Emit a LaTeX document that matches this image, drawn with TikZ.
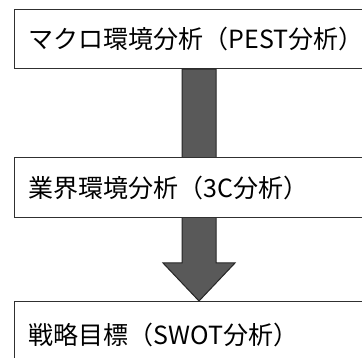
\documentclass[tikz,border=0pt]{standalone}
\usepackage{fontspec}
\newfontfamily\jp{Noto Sans CJK JP}
\usetikzlibrary{calc}
\definecolor{arrowfill}{HTML}{595959}
\definecolor{edge}{HTML}{303030}
\tikzset{
  stage/.style={draw=edge, line width=1.1pt, fill=white, anchor=north west,
    minimum width=400pt, text width=372pt, inner xsep=14pt, align=left,
    font=\jp\fontsize{25}{29}\selectfont},
  bigarrow/.style={draw=black!85, line width=1pt, fill=arrowfill}
}
\begin{document}
\begin{tikzpicture}[x=1pt,y=1pt]
\useasboundingbox (0,0) rectangle (362,358);
\clip (0,0) rectangle (362,358);
\fill[white] (0,0) rectangle (362,358);
\node[stage, minimum height=59pt] (macro) at (14,349) {マクロ環境分析（PEST分析）};
\node[stage, minimum height=66pt] (goal) at (14,57) {戦略目標（SWOT分析）};
\coordinate (as) at (199,0 |- macro.south);
\coordinate (ae) at (199,0 |- goal.north);
\draw[bigarrow] ($(as)+(-17,0)$) -- ($(ae)+(-17,38)$) -- ($(ae)+(-36,38)$) -- (ae)
  -- ($(ae)+(36,38)$) -- ($(ae)+(17,38)$) -- ($(as)+(17,0)$) -- cycle;
\node[stage, minimum height=60pt] (industry) at (14,201) {業界環境分析（3C分析）};
\end{tikzpicture}
\end{document}
